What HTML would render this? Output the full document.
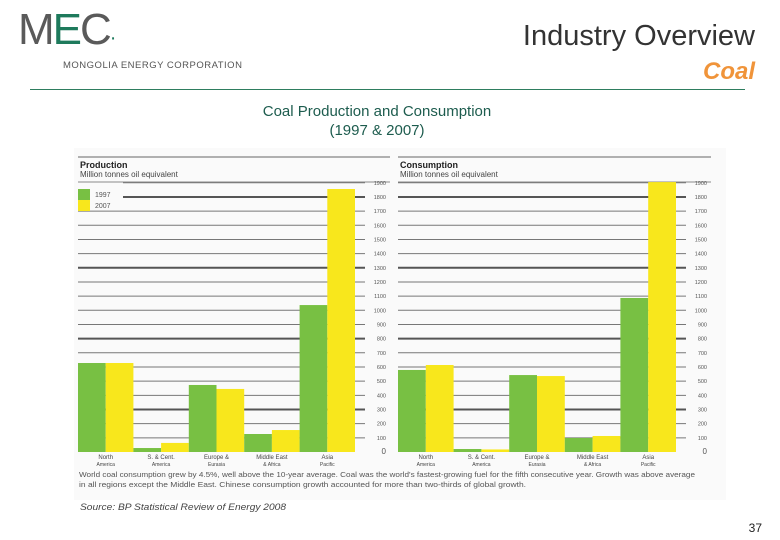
<!DOCTYPE html>
<html><head><meta charset="utf-8">
<style>
body{margin:0;width:780px;height:540px;background:#fff;font-family:"Liberation Sans",sans-serif;position:relative;overflow:hidden}
.a{position:absolute;white-space:nowrap}
</style></head><body>
<div class="a" style="left:18px;top:8px;font-size:44px;letter-spacing:-2px;color:#5a5a5a;font-weight:normal;line-height:44px">M<span style="color:#1e7a5c">E</span>C<span style="color:#1e7a5c;font-size:20px">·</span></div>
<div class="a" style="left:63px;top:60px;font-size:9.5px;color:#555;letter-spacing:0.5px">MONGOLIA ENERGY CORPORATION</div>
<div class="a" style="right:25px;top:20px;font-size:29px;color:#333">Industry Overview</div>
<div class="a" style="right:25px;top:58px;font-size:24px;color:#f0943a;font-weight:bold;font-style:italic">Coal</div>
<div class="a" style="left:30px;top:89px;width:715px;height:1px;background:#2e7d5f"></div>
<div class="a" style="left:0;width:754px;top:102px;text-align:center;font-size:15px;color:#1d5c4e;line-height:19px">Coal Production and Consumption<br>(1997 &amp; 2007)</div>
<svg class="a" style="left:0;top:0" width="780" height="540">
<rect x="74" y="148" width="652" height="352" fill="#fafafa"/>
<g id="g"></g>
<text x="80" y="510" font-size="9" font-style="italic" fill="#444" font-family="Liberation Sans" textLength="206" lengthAdjust="spacingAndGlyphs">Source: BP Statistical Review of Energy 2008</text>
<text x="79" y="477" font-size="7.5" fill="#555" font-family="Liberation Sans" textLength="616" lengthAdjust="spacingAndGlyphs">World coal consumption grew by 4.5%, well above the 10-year average. Coal was the world's fastest-growing fuel for the fifth consecutive year. Growth was above average</text>
<text x="79" y="487" font-size="7.5" fill="#555" font-family="Liberation Sans" textLength="447" lengthAdjust="spacingAndGlyphs">in all regions except the Middle East. Chinese consumption growth accounted for more than two-thirds of global growth.</text>
<text x="762" y="532" font-size="12" fill="#222" font-family="Liberation Sans" text-anchor="end">37</text>
</svg>
<script>
const regions1=["North","S. & Cent.","Europe &","Middle East","Asia"];
const regions2=["America","America","Eurasia","& Africa","Pacific"];
const prod1997=[628,28,473,127,1037];
const prod2007=[628,64,445,155,1856];
const cons1997=[579,21,543,99,1087];
const cons2007=[614,18,536,113,1905];
const ticks=[0,100,200,300,400,500,600,700,800,900,1000,1100,1200,1300,1400,1500,1600,1700,1800,1900];
const NS="http://www.w3.org/2000/svg";
const g=document.getElementById('g');
const y0=452, k=14.17/100;
function y(v){return y0-v*k;}
function mk(t,a,p){const e=document.createElementNS(NS,t);for(const n in a)e.setAttribute(n,a[n]);(p||g).appendChild(e);return e;}
function panel(x0,x1,title,sub,s1,s2,nm,legend){
  mk('line',{x1:x0,x2:x1+35,y1:157,y2:157,stroke:'#666','stroke-width':1});
  mk('line',{x1:x0,x2:x1+35,y1:182,y2:182,stroke:'#666','stroke-width':0.8});
  let t=mk('text',{x:x0+2,y:168,'font-size':9,'font-weight':'bold',fill:'#222','font-family':'Liberation Sans'});t.textContent=title;
  
  
  t=mk('text',{x:x0+2,y:177,'font-size':8,fill:'#444','font-family':'Liberation Sans'});t.textContent=sub;
  ticks.forEach(v=>{
    if(v>0){
      const thick=(v%500===300);
      const l=mk('line',{x1:(legend&&v>=1800)?x0+45:x0,x2:x1+10,y1:y(v),y2:y(v),stroke:thick?'#555':'#777','stroke-width':thick?2:1});
      
      
    }
    const tx=mk('text',{x:x1+31,y:y(v)+2,'font-size':v===0?8:5.5,fill:'#555','text-anchor':'end','font-family':'Liberation Sans'});tx.textContent=v;
    
    
  });
  const gw=(x1-x0)/5,bw=gw/2;
  s1.forEach((v,i)=>{
    let r=mk('rect',{x:x0+i*gw,y:y(v),width:bw,height:v*k,fill:'#78c043'});
    
    
    r=mk('rect',{x:x0+i*gw+bw,y:y(s2[i]),width:bw,height:s2[i]*k,fill:'#f8e71c'});
    
    
    const c=x0+i*gw+bw;
    let a=mk('text',{x:c,y:459,'font-size':6,fill:'#444','text-anchor':'middle','font-family':'Liberation Sans'});a.textContent=regions1[i];
    
    
    a=mk('text',{x:c,y:466,'font-size':5,fill:'#444','text-anchor':'middle','font-family':'Liberation Sans'});a.textContent=regions2[i];
  });
  if(legend){
    let r=mk('rect',{x:x0,y:189,width:12,height:11,fill:'#78c043'});
    
    
    r=mk('rect',{x:x0,y:200,width:12,height:11,fill:'#f8e71c'});
    
    
    let t1=mk('text',{x:x0+17,y:197,'font-size':7,fill:'#555','font-family':'Liberation Sans'});t1.textContent='1997';
    t1=mk('text',{x:x0+17,y:208,'font-size':7,fill:'#555','font-family':'Liberation Sans'});t1.textContent='2007';
  }
}
panel(78,355,'Production','Million tonnes oil equivalent',prod1997,prod2007,'production',true);
panel(398,676,'Consumption','Million tonnes oil equivalent',cons1997,cons2007,'consumption',false);
</script>
</body></html>
